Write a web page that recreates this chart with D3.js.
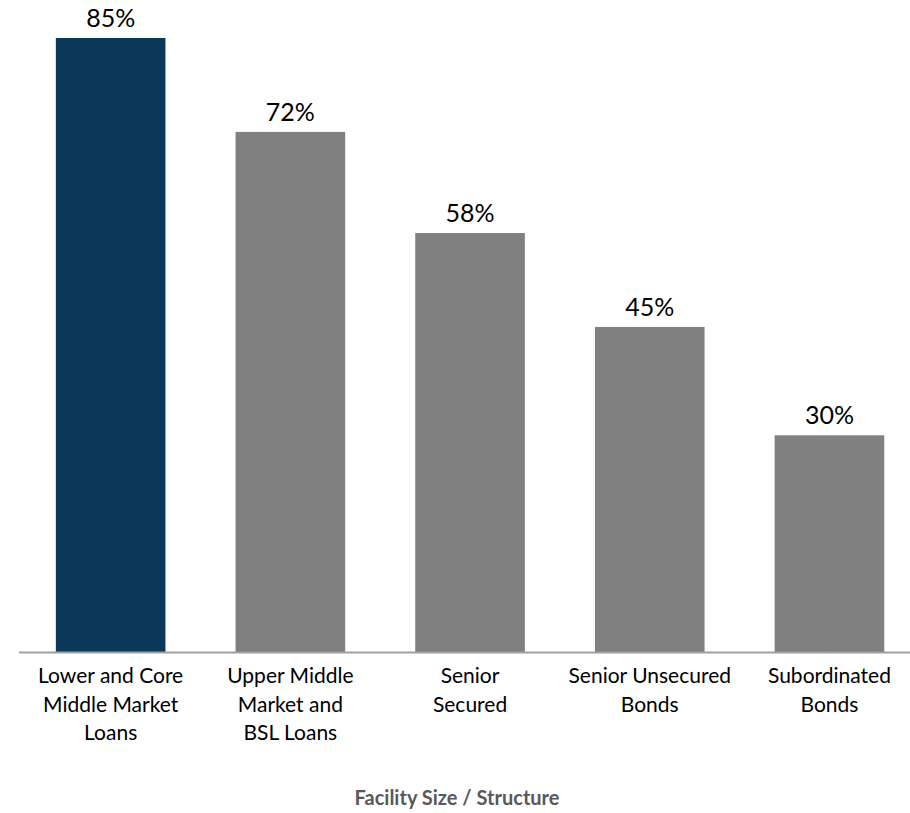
<!DOCTYPE html>
<html>
<head>
<meta charset="utf-8">
<script src="https://cdn.jsdelivr.net/npm/d3@7"></script>
<style>
body { margin: 0; background: #fff; }
svg { display: block; font-family: Lato, "Open Sans", sans-serif; }
.value-label { font-size: 25px; fill: #000; }
.cat-label { font-size: 21px; fill: #000; }
.axis-title { font-size: 20px; font-weight: bold; fill: #595959; }
</style>
</head>
<body>
<svg width="910" height="813"></svg>
<script>
const categories = ["lcmm", "umm", "ss", "sub", "subord"]
const catLines = [
	["Lower and Core", "Middle Market", "Loans"],
	["Upper Middle", "Market and", "BSL Loans"],
	["Senior", "Secured"],
	["Senior Unsecured", "Bonds"],
	["Subordinated", "Bonds"]
]
const values = [85, 72, 58, 45, 30]
const barColors = ["#0b3858", "#808080", "#808080", "#808080", "#808080"]
const xTitle = "Facility Size / Structure"

var svg = d3.select("svg"),
	baseY = 652,
	topY = 38

var x = d3.scaleBand()
		  .domain(categories)
		  .range([20.8, 919.3])
		  .paddingInner(0.39)
		  .paddingOuter(0.195)

var y = d3.scaleLinear()
		  .domain([0, d3.max(values)])
		  .range([baseY, topY])

// bars
svg.selectAll("rect.bar")
   .data(values)
   .enter()
   .append("rect")
   .attr("class", "bar")
   .attr("x", function(d, i) { return x(categories[i]) })
   .attr("y", function(d) { return y(d) })
   .attr("width", x.bandwidth())
   .attr("height", function(d) { return y(0) - y(d) })
   .attr("fill", function(d, i) { return barColors[i] })

// value labels on top
svg.selectAll("text.value-label")
   .data(values)
   .enter()
   .append("text")
   .attr("class", "value-label")
   .attr("text-anchor", "middle")
   .attr("x", function(d, i) { return x(categories[i]) + x.bandwidth() / 2 })
   .attr("y", function(d) { return y(d) - 11 })
   .text(function(d) { return d + "%" })

// x axis, only the line
var axisG = svg.append("g")
   .attr("transform", "translate(0," + (baseY + 0.5) + ")")
   .call(d3.axisBottom(x).tickSize(0).tickFormat(""))
axisG.select(".domain")
   .attr("d", "M19,0H910")
   .attr("stroke", "#a0a0a0")
   .attr("stroke-width", 2)

// category labels, several lines each
var catG = svg.selectAll("text.cat-label")
   .data(catLines)
   .enter()
   .append("text")
   .attr("class", "cat-label")
   .attr("text-anchor", "middle")
   .attr("transform", function(d, i) {
		return "translate(" + (x(categories[i]) + x.bandwidth() / 2) + "," + (baseY + 31) + ")"
   })
catG.selectAll("tspan")
   .data(function(d) { return d })
   .enter()
   .append("tspan")
   .attr("x", 0)
   .attr("y", function(d, i) { return i * 28.5 })
   .text(function(d) { return d })

svg.append("text")
   .attr("class", "axis-title")
   .attr("text-anchor", "middle")
   .attr("x", 457)
   .attr("y", 805)
   .text(xTitle)
</script>
</body>
</html>
